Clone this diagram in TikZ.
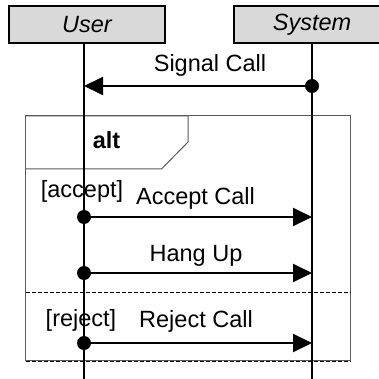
\documentclass[tikz,border=0pt]{standalone}
\usepackage{fontspec}
\setmainfont{Liberation Sans}
\usetikzlibrary{arrows.meta}
\begin{document}
\begin{tikzpicture}[x=1pt,y=-1pt,
  font=\fontsize{23.5}{28}\selectfont,
  head/.style={draw=black, line width=1.6pt, fill=gray!30, minimum width=156pt, minimum height=37pt, inner sep=0pt},
  life/.style={draw=black, line width=1.4pt},
  msg/.style={draw=black, line width=2pt, -{Triangle[length=19pt,width=18pt]}},
  framel/.style={draw=black!65, line width=1pt},
  sep/.style={draw=black, line width=1pt, dash pattern=on 4pt off 2pt},
  lbl/.style={anchor=base, inner sep=0pt}]
\useasboundingbox (0,0) rectangle (378,379);
% frame
\draw[framel] (25.5,361) -- (25.5,116) -- (350,116) -- (350,361);
\draw[framel] (25.5,116) -- (188,116) -- (188,142) -- (161.5,169) -- (25.5,169);
\draw[sep] (25.5,292) -- (350,292);
\draw[framel] (25.5,360.5) -- (350,360.5);
\draw[sep, line width=1.5pt] (25.5,361.5) -- (350,361.5);
\node[lbl, font=\fontsize{23.5}{28}\selectfont\bfseries] (alt) at (106.5,149) {alt};
% heads
\node[head] (user) at (87,24.5) {\itshape User};
\node[head] (sys) at (312,24.5) {\itshape System};
% lifelines
\coordinate (ut) at (84,43);
\coordinate (ub) at (84,379);
\coordinate (st) at (312,43);
\coordinate (sb) at (312,379);
\draw[life] (ut) -- (ub);
\draw[life] (st) -- (sb);
% signal call
\coordinate (s1) at (312,86);
\coordinate (u1) at (84,86);
\draw[msg] (s1) -- (u1);
\fill (s1) circle (7);
\node[lbl] (t1) at (210,72) {Signal Call};
% accept
\coordinate (u2) at (84,217);
\coordinate (s2) at (312,217);
\draw[msg] (u2) -- (s2);
\fill (u2) circle (7);
\node[lbl] (g1) at (82,197) {[accept]};
\node[lbl] (t2) at (195.5,204) {Accept Call};
% hang up
\coordinate (u3) at (84,273);
\coordinate (s3) at (312,273);
\draw[msg] (u3) -- (s3);
\fill (u3) circle (7);
\node[lbl] (t3) at (196,261) {Hang Up};
% reject
\coordinate (u4) at (84,343);
\coordinate (s4) at (312,343);
\draw[msg] (u4) -- (s4);
\fill (u4) circle (7);
\node[lbl] (g2) at (81,326) {[reject]};
\node[lbl] (t4) at (196,327) {Reject Call};
\end{tikzpicture}
\end{document}
